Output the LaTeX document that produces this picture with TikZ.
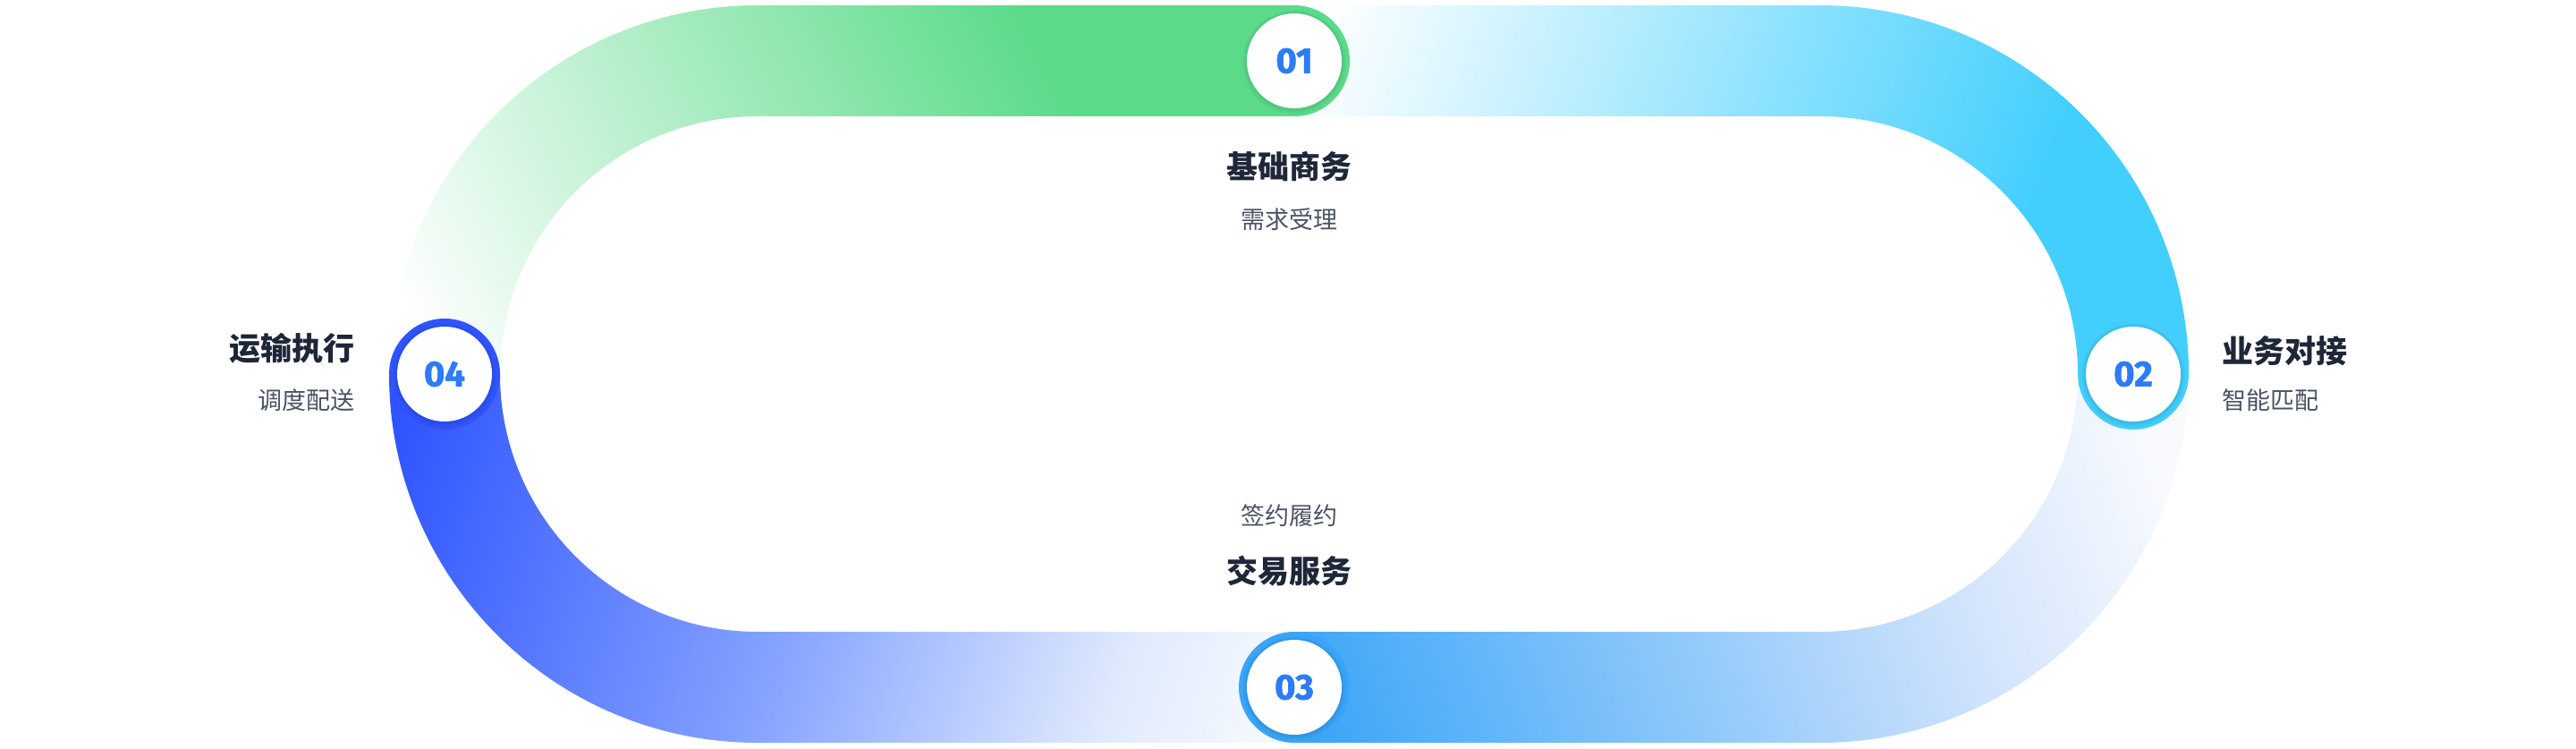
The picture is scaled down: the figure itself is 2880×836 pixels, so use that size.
\documentclass[tikz,border=0pt]{standalone}
\usepackage{fontspec}
\setmainfont{Fira Sans}
\newfontfamily\cjk{Noto Sans CJK SC}
\newfontfamily\numfont{Fira Sans}[BoldFeatures={FakeBold=1.6}]
\definecolor{cg}{HTML}{5BDB8A}
\definecolor{cc}{HTML}{42CFFD}
\definecolor{cb}{HTML}{3AA5F8}
\definecolor{cbl}{HTML}{D2E4FC}
\definecolor{cbe}{HTML}{F8FAFE}
\definecolor{cd}{HTML}{2F54FF}
\definecolor{cdm}{HTML}{86A4FF}
\definecolor{cdl}{HTML}{E0EAFD}
\definecolor{cde}{HTML}{F4F8FE}
\definecolor{titlec}{HTML}{1E2638}
\definecolor{subc}{HTML}{4A5263}
\definecolor{numc}{HTML}{2D7CF6}
\tikzset{
  titletext/.style={font=\cjk\bfseries\fontsize{35}{40}\selectfont, text=titlec, inner sep=0pt},
  subtext/.style={font=\cjk\fontsize{27}{30}\selectfont, text=subc, inner sep=0pt},
  disc/.style={circle, fill=white, minimum size=106pt, inner sep=0pt,
    font=\numfont\bfseries\fontsize{40}{44}\selectfont, text=numc},
  shadowA/.style={fill=black, opacity=0.035},
  shadowB/.style={fill=black, opacity=0.05},
}
\begin{document}
\begin{tikzpicture}[x=1pt,y=1pt]
\useasboundingbox (0,0) rectangle (2880,836);
% circle centres
\coordinate (p1) at (1447,768);
\coordinate (p2) at (2385,418);
\coordinate (p3) at (1447,68);
\coordinate (p4) at (497,418);
% segment 1 : 04 -> 01 (green)
\begin{scope}
\clip (435,418) arc[start angle=180,end angle=90,radius=412] -- (1447,830) -- (1447,706) -- (847,706) arc[start angle=90,end angle=180,radius=288] -- cycle;
\begin{scope}[transform canvas={shift={(470,456)},rotate=27.24}]
\shade[left color=white, right color=cg] (0,-3000) rectangle (765.8,3000);
\fill[cg] (764.8,-3000) rectangle (3000,3000);
\end{scope}
\end{scope}
% segment 2 : 01 -> 02 (cyan)
\begin{scope}
\clip (1447,830) -- (2035,830) arc[start angle=90,end angle=0,radius=412] -- (2323,418) arc[start angle=0,end angle=90,radius=288] -- (1447,706) -- cycle;
\begin{scope}[transform canvas={shift={(1480,816)},rotate=-19.98}]
\shade[left color=white, right color=cc] (0,-3000) rectangle (820.3,3000);
\fill[cc] (819.3,-3000) rectangle (3000,3000);
\end{scope}
\end{scope}
% segment 3 : 02 -> 03 (light blue)
\begin{scope}
\clip (2447,418) arc[start angle=0,end angle=-90,radius=412] -- (1447,6) -- (1447,130) -- (2035,130) arc[start angle=-90,end angle=0,radius=288] -- cycle;
\begin{scope}[transform canvas={shift={(1447,68)},rotate=19.4}]
\fill[cb] (-3000,-3000) rectangle (0.5,3000);
\shade[left color=cb, right color=cbl] (0,-3000) rectangle (738.2,3000);
\shade[left color=cbl, right color=cbe] (737.2,-3000) rectangle (991,3000);
\fill[cbe] (990,-3000) rectangle (3000,3000);
\end{scope}
\end{scope}
% segment 4 : 03 -> 04 (blue)
\begin{scope}
\clip (1447,6) -- (847,6) arc[start angle=270,end angle=180,radius=412] -- (559,418) arc[start angle=180,end angle=270,radius=288] -- (1447,130) -- cycle;
\begin{scope}[transform canvas={shift={(450,386)},rotate=-18.26}]
\fill[cd] (-3000,-3000) rectangle (0.5,3000);
\shade[left color=cd, right color=cdm] (0,-3000) rectangle (491.3,3000);
\shade[left color=cdm, right color=cdl] (490.3,-3000) rectangle (859,3000);
\shade[left color=cdl, right color=cde] (858,-3000) rectangle (1021.4,3000);
\fill[cde] (1020.4,-3000) rectangle (3000,3000);
\end{scope}
\end{scope}
% end caps
\fill[cg] (p1) circle (62);
\fill[cc] (p2) circle (62);
\fill[cb] (p3) circle (62);
\fill[cd] (p4) circle (62);
% soft shadows
\foreach \p in {p1,p2,p3,p4}{
  \fill[shadowA] ([yshift=-1.5pt]\p) circle (58);
  \fill[shadowB] ([yshift=-1pt]\p) circle (55.5);
}
% number discs
\node[disc] (n1) at (p1) {01};
\node[disc] (n2) at (p2) {02};
\node[disc] (n3) at (p3) {03};
\node[disc] (n4) at (p4) {04};
% labels
\node[titletext] (t1) at (1441,650) {基础商务};
\node[subtext] (s1) at (1441,591) {需求受理};
\node[titletext, anchor=west] (t2) at (2484,444) {业务对接};
\node[subtext, anchor=west] (s2) at (2484,389) {智能匹配};
\node[subtext] (s3) at (1441,260) {签约履约};
\node[titletext] (t3) at (1441,198) {交易服务};
\node[titletext, anchor=east] (t4) at (397,447) {运输执行};
\node[subtext, anchor=east] (s4) at (397,389) {调度配送};
\end{tikzpicture}
\end{document}
